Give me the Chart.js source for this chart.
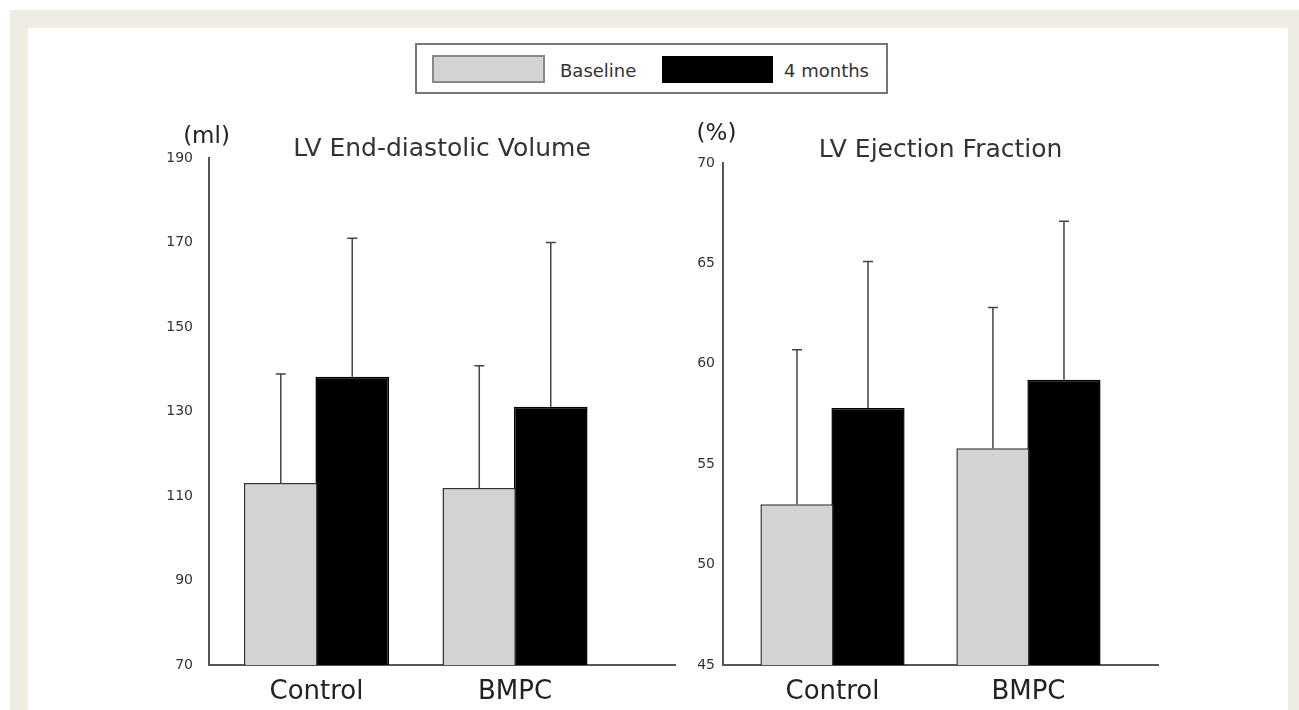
<!DOCTYPE html>
<html>
<head>
<meta charset="utf-8">
<script src="https://cdn.jsdelivr.net/npm/chart.js@4.4.1/dist/chart.umd.min.js"></script>
<style>
  html, body { margin:0; padding:0; background:#fff; width:1299px; height:710px; overflow:hidden; font-family:"DejaVu Sans", sans-serif; }
  #frame { position:absolute; left:10px; top:10px; width:1289px; height:700px; background:#efebe5; }
  #inner { position:absolute; left:28px; top:28px; width:1260px; height:682px; background:#fff; }
  #legend { position:absolute; left:415px; top:43px; width:469px; height:47px; border:2px solid #777; background:#fff; }
  .sw { position:absolute; box-sizing:border-box; }
  .lt { position:absolute; top:16px; line-height:20px; font-size:18px; color:#333; white-space:nowrap; }
  canvas { position:absolute; }
</style>
</head>
<body>
<div id="frame"></div>
<div id="inner"></div>
<div id="legend">
  <div class="sw" style="left:15px;top:10px;width:113px;height:28px;background:#d3d3d3;border:2px solid #888;"></div>
  <span class="lt" id="lg0" style="left:143px;"></span>
  <div class="sw" style="left:245px;top:11px;width:111px;height:27px;background:#000;"></div>
  <span class="lt" id="lg1" style="left:367px;"></span>
</div>
<canvas id="cEDV" width="540" height="610" style="left:150px;top:100px;"></canvas>
<canvas id="cEF" width="609" height="610" style="left:690px;top:100px;"></canvas>
<script>
// ---- data ----
const categories = ['Control', 'BMPC'];
const seriesNames = ['Baseline', '4 months'];
const edvBaseline = [113.1, 111.9];
const edvBaselineSD = [25.8, 28.9];
const edv4m = [138.2, 131.1];
const edv4mSD = [32.8, 38.9];
const efBaseline = [53.0, 55.8];
const efBaselineSD = [7.7, 7.0];
const ef4m = [57.8, 59.2];
const ef4mSD = [7.3, 7.9];
const edvTicks = [70, 90, 110, 130, 150, 170, 190];
const efTicks = [45, 50, 55, 60, 65, 70];

document.getElementById('lg0').textContent = seriesNames[0];
document.getElementById('lg1').textContent = seriesNames[1];

const errorBars = {
  id: 'errorBars',
  afterDatasetsDraw(chart) {
    const ctx = chart.ctx, y = chart.scales.y;
    chart.data.datasets.forEach((ds, di) => {
      const meta = chart.getDatasetMeta(di);
      meta.data.forEach((bar, i) => {
        const top = y.getPixelForValue(ds.data[i].y + ds.errors[i]);
        ctx.save();
        ctx.strokeStyle = '#444';
        ctx.lineWidth = 1.5;
        ctx.beginPath();
        ctx.moveTo(bar.x, bar.y);
        ctx.lineTo(bar.x, top);
        ctx.moveTo(bar.x - 5, top);
        ctx.lineTo(bar.x + 5, top);
        ctx.stroke();
        ctx.restore();
      });
    });
  }
};

const unitLabel = {
  id: 'unitLabel',
  afterDraw(chart, args, opts) {
    const { ctx, chartArea } = chart;
    ctx.save();
    ctx.font = '23px "DejaVu Sans"';
    ctx.fillStyle = '#222';
    ctx.textAlign = 'center';
    ctx.textBaseline = 'middle';
    ctx.fillText(opts.text, chartArea.left + opts.dx, chartArea.top + opts.dy);
    ctx.restore();
  }
};

function makeChart(id, p) {
  return new Chart(document.getElementById(id), {
    type: 'bar',
    data: {
      datasets: [
        { label: seriesNames[0], data: p.base.map((v, i) => ({ x: i, y: v })), errors: p.baseSD,
          backgroundColor: '#d3d3d3', borderColor: '#333', borderWidth: 1.5,
          categoryPercentage: p.catPct, barPercentage: 1.03 },
        { label: seriesNames[1], data: p.m4.map((v, i) => ({ x: i, y: v })), errors: p.m4SD,
          backgroundColor: '#000', borderColor: '#000', borderWidth: 1.5,
          categoryPercentage: p.catPct, barPercentage: 1.03 }
      ]
    },
    options: {
      responsive: false,
      animation: false,
      devicePixelRatio: 1,
      layout: { padding: { top: p.padTop, right: p.padRight, left: 0, bottom: 0 } },
      plugins: {
        legend: { display: false },
        tooltip: { enabled: false },
        title: {
          display: true, text: p.title, fullSize: false, color: '#333',
          font: { family: '"DejaVu Sans"', size: 25, weight: 'normal', lineHeight: 0.72 },
          padding: { top: 0, bottom: p.titleGap }
        },
        unitLabel: p.unit
      },
      scales: {
        x: {
          type: 'linear', min: p.xmin, max: p.xmax, offset: false,
          grid: { display: false, drawTicks: false, offset: false },
          border: { display: true, color: '#555', width: 2 },
          afterBuildTicks: s => { s.ticks = categories.map((_, i) => ({ value: i })); },
          afterFit: s => { s.height = 45; },
          ticks: {
            callback: v => categories[v],
            font: { family: '"DejaVu Sans"', size: 26 }, color: '#222',
            padding: 12, maxRotation: 0, autoSkip: false
          }
        },
        y: {
          min: p.ticks[0], max: p.ticks[p.ticks.length - 1],
          afterBuildTicks: s => { s.ticks = p.ticks.map(v => ({ value: v })); },
          afterFit: s => { s.width = p.yWidth; },
          grid: { display: false, drawTicks: false },
          border: { display: true, color: '#555', width: 2 },
          ticks: { font: { family: '"DejaVu Sans"', size: 14 }, color: '#333', padding: p.yPad }
        }
      }
    },
    plugins: [errorBars, unitLabel]
  });
}

makeChart('cEDV', {
  base: edvBaseline, baseSD: edvBaselineSD, m4: edv4m, m4SD: edv4mSD,
  ticks: edvTicks, title: 'LV End-diastolic Volume',
  unit: { text: '(ml)', dx: -2.5, dy: -21 },
  padTop: 40, titleGap: 0, padRight: 15, yWidth: 59, yPad: 16,
  xmin: -0.5416, xmax: 1.806, catPct: 0.72
});
makeChart('cEF', {
  base: efBaseline, baseSD: efBaselineSD, m4: ef4m, m4SD: ef4mSD,
  ticks: efTicks, title: 'LV Ejection Fraction',
  unit: { text: '(%)', dx: -6.5, dy: -29 },
  padTop: 41, titleGap: 4, padRight: 141, yWidth: 33, yPad: 8,
  xmin: -0.5587, xmax: 1.661, catPct: 0.725
});
</script>
</body>
</html>
